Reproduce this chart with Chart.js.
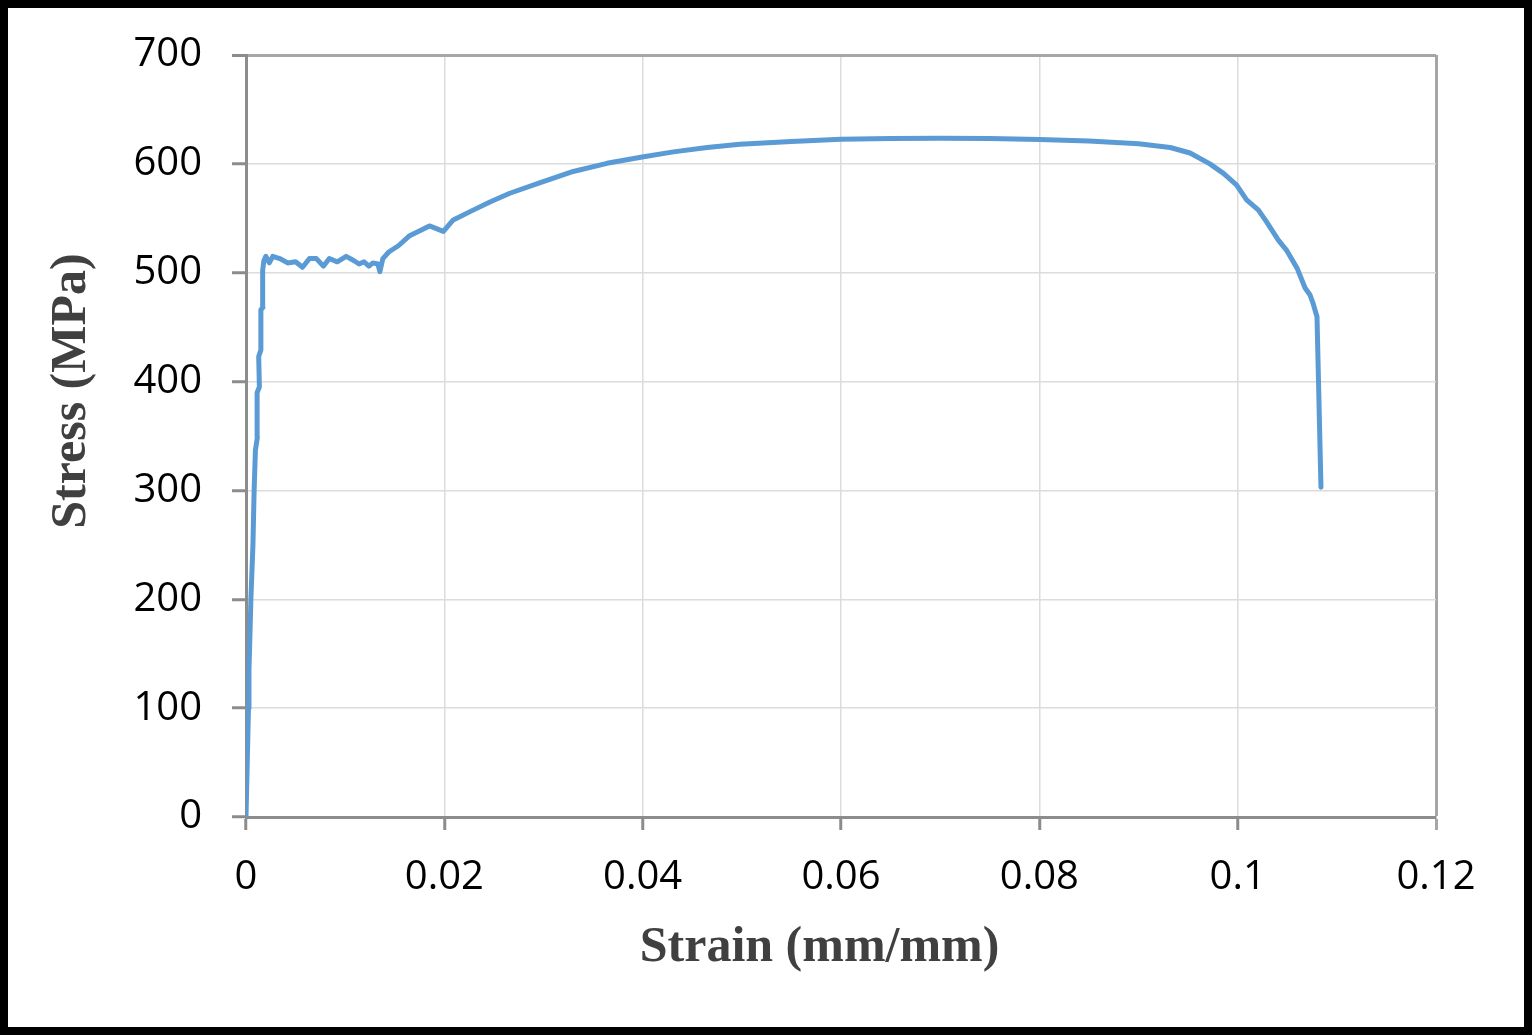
<!DOCTYPE html>
<html><head><meta charset="utf-8">
<script src="https://cdn.jsdelivr.net/npm/chart.js@4"></script>
<style>
html,body{margin:0;padding:0;background:#fff}
#wrap{position:absolute;left:0;top:0;width:1532px;height:1035px;box-sizing:border-box;border:8px solid #000;background:#fff}
canvas{display:block}
</style></head><body>
<div id="wrap"><canvas id="c" width="1516" height="1019"></canvas></div>
<script>
const strain = [0, 0.00025, 0.0003, 0.0005, 0.0007, 0.00082, 0.00095, 0.00115, 0.00112, 0.00135, 0.00128, 0.0015, 0.0015, 0.0017, 0.00168, 0.0018, 0.002, 0.00235, 0.0027, 0.0034, 0.0042, 0.0050, 0.0057, 0.0064, 0.0071, 0.0078, 0.0084, 0.0092, 0.0101, 0.0109, 0.0114, 0.0119, 0.0124, 0.0128, 0.0133, 0.0135, 0.0138, 0.0144, 0.0154, 0.0165, 0.0185, 0.0199, 0.0209, 0.0229, 0.0246, 0.0266, 0.0296, 0.033, 0.0364, 0.0401, 0.0431, 0.0465, 0.0498, 0.055, 0.06, 0.065, 0.07, 0.075, 0.08, 0.085, 0.09, 0.0932, 0.0952, 0.0972, 0.0986, 0.0999, 0.1009, 0.1021, 0.1029, 0.1041, 0.1049, 0.1060, 0.1068, 0.1073, 0.1076, 0.1080, 0.1084];
const stress = [0, 100, 135, 202, 250, 300, 337, 349, 390, 395, 423, 429, 466, 468, 502, 511, 515, 509, 515, 513, 509, 510, 505, 513, 513, 506, 513, 510, 515, 511, 508, 510, 506, 509, 508, 501, 513, 519, 525, 534, 543, 538, 548.5, 557.5, 565, 573, 582.5, 593, 600.5, 606.5, 611, 615, 618, 620.5, 622.5, 623.3, 623.5, 623.2, 622.3, 621, 618.5, 615, 610, 600, 591, 580.5, 567, 557.5, 547, 530, 521, 504, 486, 479.5, 472, 459.5, 303];
const xTickLabels = ['0', '0.02', '0.04', '0.06', '0.08', '0.1', '0.12'];
const yTickLabels = ['0', '100', '200', '300', '400', '500', '600', '700'];
const xTitle = 'Strain (mm/mm)';
const yTitle = 'Stress (MPa)';

const pts = strain.map((s, i) => ({x: s, y: stress[i]}));
const tickFont = {family: '"Open Sans", sans-serif', size: 40};
const titleFontCss = 'bold 50px "Liberation Serif", "Times New Roman", serif';

const axisTitles = {
  id: 'axisTitles',
  afterDraw(chart) {
    const ctx = chart.ctx, a = chart.chartArea;
    ctx.save();
    ctx.fillStyle = '#404040';
    ctx.font = titleFontCss;
    ctx.textAlign = 'center';
    ctx.textBaseline = 'middle';
    ctx.fillText(xTitle, a.left + (a.right - a.left) * 0.482, a.bottom + 131);
    ctx.translate(64, a.top + (a.bottom - a.top) * 0.441);
    ctx.rotate(-Math.PI / 2);
    ctx.fillText(yTitle, 0, 0);
    ctx.restore();
  }
};

new Chart(document.getElementById('c'), {
  type: 'line',
  data: {datasets: [{data: pts, borderColor: '#5b9bd5', borderWidth: 5, pointRadius: 0, tension: 0, fill: false, borderJoinStyle: 'round', borderCapStyle: 'round'}]},
  options: {
    responsive: false, animation: false,
    layout: {padding: {left: 0, top: 47, right: 88, bottom: 0}},
    plugins: {legend: {display: false}, tooltip: {enabled: false}},
    scales: {
      x: {
        type: 'linear', min: 0, max: 0.12,
        afterFit: s => { s.height = 210; s.paddingLeft = 0; s.paddingRight = 0; },
        ticks: {stepSize: 0.02, color: '#000', font: tickFont, padding: 24, maxRotation: 0,
                callback: (v, i) => xTickLabels[i]},
        grid: {color: c => (c.index === 6 ? '#a6a6a6' : '#dcdcdc'), lineWidth: c => (c.index === 6 ? 3 : 1.5),
               tickLength: 13, tickColor: c => (c.index === 6 ? '#a6a6a6' : '#8c8c8c'), tickWidth: 3},
        border: {color: '#8c8c8c', width: 3},
        title: {display: false}
      },
      y: {
        min: 0, max: 700,
        afterFit: s => { s.width = 238; s.paddingTop = 0; s.paddingBottom = 0; },
        ticks: {stepSize: 100, color: '#000', font: tickFont, padding: 30,
                callback: (v, i) => yTickLabels[i]},
        grid: {color: c => (c.index === 7 ? '#a6a6a6' : '#dcdcdc'), lineWidth: c => (c.index === 7 ? 3 : 1.5),
               tickLength: 14, tickColor: '#8c8c8c', tickWidth: 3},
        border: {color: '#8c8c8c', width: 3},
        title: {display: false}
      }
    }
  },
  plugins: [axisTitles]
});
</script>
</body></html>
